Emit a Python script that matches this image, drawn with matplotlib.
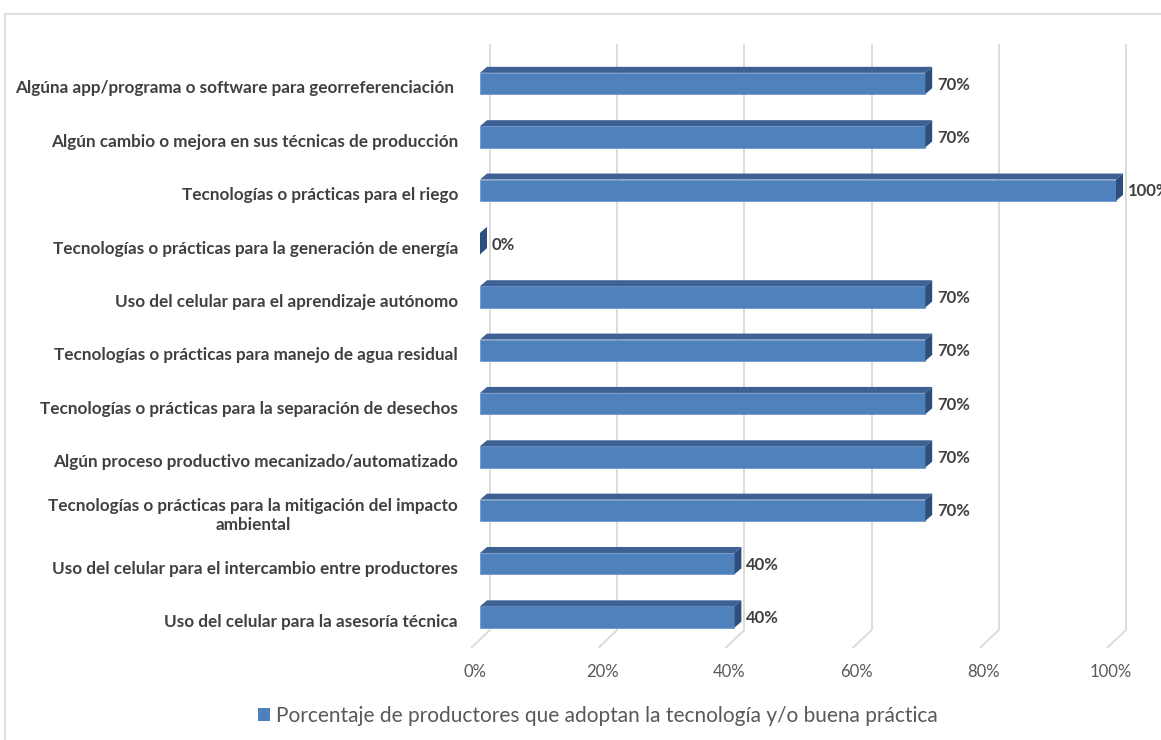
import matplotlib
matplotlib.use("Agg")
import matplotlib.pyplot as plt
from matplotlib.patches import Polygon, Rectangle, Patch

# ---- data ----
categories = [
    "Algúna app/programa o software para georreferenciación ",
    "Algún cambio o mejora en sus técnicas de producción",
    "Tecnologías o prácticas para el riego",
    "Tecnologías o prácticas para la generación de energía",
    "Uso del celular para el aprendizaje autónomo",
    "Tecnologías o prácticas para manejo de agua residual",
    "Tecnologías o prácticas para la separación de desechos",
    "Algún proceso productivo mecanizado/automatizado",
    "Tecnologías o prácticas para la mitigación del impacto\nambiental",
    "Uso del celular para el intercambio entre productores",
    "Uso del celular para la asesoría técnica",
]
values = [70, 70, 100, 0, 70, 70, 70, 70, 70, 40, 40]
ticks = [0, 20, 40, 60, 80, 100]
tick_labels = ["0%", "20%", "40%", "60%", "80%", "100%"]
value_labels = [f"{v}%" for v in values]
series_name = "Porcentaje de productores que adoptan la tecnología y/o buena práctica"

# ---- style ----
FRONT = "#4F81BD"
TOP = "#3C6192"
SIDE = "#2D4F7E"
GRID = "#D9D9D9"
DARK = "#404040"
MID = "#595959"
FONT = "Lato"

W, H, DPI = 1161, 740, 100
fig = plt.figure(figsize=(W / DPI, H / DPI), dpi=DPI)

# plot box (pixels): front plane of bars horizontally, back wall vertically
L, T, R, B = 480, 44, 1116, 630
first_c, pitch = 83.5, 53.35
ax = fig.add_axes([L / W, 1 - B / H, (R - L) / W, (B - T) / H])
y_top = (T - first_c) / pitch
y_bot = (B - first_c) / pitch
ax.set_xlim(0, 100)
ax.set_ylim(y_bot, y_top)
ax.axis("off")

# pixel -> data unit factors
sx = 100 / (R - L)
sy = (y_bot - y_top) / (B - T)

ypos = list(range(len(categories)))
hh = 0.2                   # half bar height
dx, dy = 7 * sx, 6 * sy    # bar depth
bx = 10 * sx               # back wall offset

# gridlines on back wall and floor
for t in ticks:
    ax.plot([t + bx, t + bx], [y_top, y_bot], color=GRID, lw=1.3, zorder=1,
            solid_capstyle="butt", clip_on=False)
    ax.plot([t + bx, t + bx - 19 * sx], [y_bot, y_bot + 18 * sy], color=GRID,
            lw=1.3, zorder=1, clip_on=False, solid_capstyle="butt")

# 3-D bars: front face, top face, side face
bars = ax.barh(ypos, values, height=2 * hh, color=FRONT, edgecolor="#6F98CC",
               linewidth=0.6, zorder=3)
for b in bars:
    b.set_clip_on(False)
for y, v in zip(ypos, values):
    top = Polygon([(0, y - hh), (v, y - hh), (v + dx, y - hh - dy), (dx, y - hh - dy)],
                  closed=True, facecolor=TOP, edgecolor="none", zorder=3, clip_on=False)
    side = Polygon([(v, y - hh), (v + dx, y - hh - dy), (v + dx, y + hh - dy), (v, y + hh)],
                   closed=True, facecolor=SIDE, edgecolor="none", zorder=4, clip_on=False)
    ax.add_patch(top)
    ax.add_patch(side)

# value labels
for y, v, lab in zip(ypos, values, value_labels):
    ax.text(v + 12 * sx, y + 1 * sy, lab, ha="left", va="center", fontsize=12,
            fontweight="bold", color=DARK, family=FONT, clip_on=False, zorder=5)

# category labels
for y, lab in zip(ypos, categories):
    ax.text(-22 * sx, y + 5 * sy, lab, ha="right", va="center", multialignment="center",
            fontsize=12.3, fontweight="bold", color=DARK, family=FONT,
            clip_on=False, linespacing=1.25)

# x tick labels
for t, lab in zip(ticks, tick_labels):
    ax.text(t - 5 * sx, y_bot + 42 * sy, lab, ha="center", va="center",
            fontsize=12, color=MID, family=FONT, clip_on=False)

# legend
fig.legend(handles=[Patch(facecolor=FRONT, edgecolor="none")], labels=[series_name],
           loc="center", bbox_to_anchor=(598 / W, 1 - 716 / H), frameon=False,
           handlelength=0.55, handleheight=0.55, handletextpad=0.3,
           prop={"family": FONT, "size": 15}, labelcolor=MID)

# chart area border
fig.patches.append(Rectangle((4.5 / W, -0.1), 1.2, 1 - 13.5 / H + 0.1,
                             transform=fig.transFigure, fill=False,
                             edgecolor=GRID, linewidth=1.2))

fig.savefig("out.png", dpi=DPI)
